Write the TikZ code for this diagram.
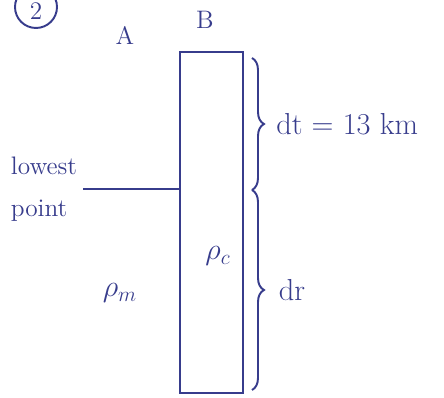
\documentclass[tikz,border=0pt]{standalone}
\usetikzlibrary{decorations.pathreplacing}
\definecolor{ink}{RGB}{55,60,140}
\begin{document}
\begin{tikzpicture}[
    x=0.02cm, y=-0.02cm,
    pen/.style={draw=ink, line width=1.1pt},
    label/.style={text=ink, font=\Large},
    bigkey/.style={text=ink, font=\LARGE},
    bracket/.style={pen, decorate, decoration={brace, amplitude=0.24cm}}
  ]
  \useasboundingbox (0,0) rectangle (444,398);
  % circled number, cut at the top edge
  \node[label, inner sep=0pt] (num) at (36,11) {2};
  \draw[pen] (36,7) circle (21);
  \node[label] (A) at (125,35) {A};
  \node[label] (B) at (205,20) {B};
  % the column
  \node[pen, minimum width=1.26cm, minimum height=6.82cm] (col) at (211.5,222.5) {};
  \node[bigkey] (rc) at (218,256) {$\rho_c$};
  \node[bigkey] (rm) at (120,293) {$\rho_m$};
  \node[label, align=left] (low) at (44,189) {lowest\\[6pt]point};
  \draw[pen] (low.east) -- (low.east -| col.west);
  % braces on the right
  \coordinate (b1) at (252,58);
  \coordinate (b2) at (252,190);
  \coordinate (b3) at (252,390);
  \draw[bracket] (b1) -- (b2) node[midway, right=0.35cm, bigkey] (dt) {dt = 13 km};
  \draw[bracket] (b2) -- (b3) node[midway, right=0.4cm, bigkey] (dr) {dr};
\end{tikzpicture}
\end{document}
